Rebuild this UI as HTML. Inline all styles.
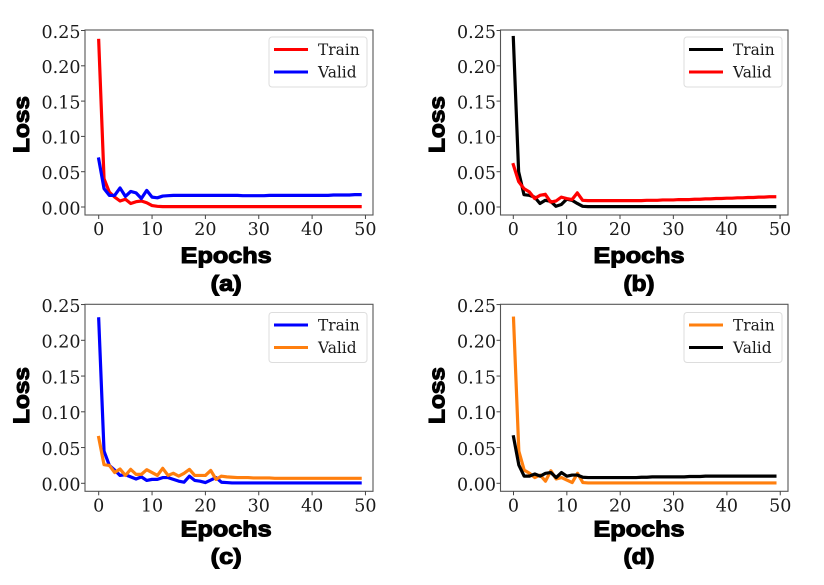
<!DOCTYPE html>
<html lang="en">
<head>
<meta charset="utf-8">
<title>Loss curves</title>
<style>
html,body{margin:0;padding:0;background:#fff;width:824px;height:585px;overflow:hidden}
svg{display:block;filter:blur(.35px)}
.tick{font-family:"DejaVu Serif","Liberation Serif",serif;font-size:17.5px;fill:#1a1a1a}
.leg{font-family:"DejaVu Serif","Liberation Serif",serif;font-size:15.4px;fill:#1a1a1a}
.bold{font-family:"Liberation Sans",Arial,sans-serif;font-weight:bold;font-size:22.5px;fill:#000;stroke:#000;stroke-width:1.1px}
</style>
</head>
<body>
<svg id="figure" width="824" height="585" viewBox="0 0 824 585" xmlns="http://www.w3.org/2000/svg"></svg>
<script>
const yTicks = [0, 0.05, 0.10, 0.15, 0.20, 0.25];
const yTickLabels = ["0.00", "0.05", "0.10", "0.15", "0.20", "0.25"];
const xTicks = [0, 10, 20, 30, 40, 50];
const xTickLabels = ["0", "10", "20", "30", "40", "50"];
const seriesNames = ["Train", "Valid"];

const trainA = [0.236,0.040,0.021,0.014,0.0085,0.011,0.005,0.0075,0.0085,0.006,0.002,0.001,0.0005,0.0005,0.0005,0.0005,0.0005,0.0005,0.0005,0.0005,0.0005,0.0005,0.0005,0.0005,0.0005,0.0005,0.0005,0.0005,0.0005,0.0005,0.0005,0.0005,0.0005,0.0005,0.0005,0.0005,0.0005,0.0005,0.0005,0.0005,0.0005,0.0005,0.0005,0.0005,0.0005,0.0005,0.0005,0.0005,0.0005,0.0005];
const validA = [0.068,0.026,0.0165,0.0165,0.027,0.015,0.022,0.020,0.012,0.0235,0.014,0.013,0.0155,0.016,0.0165,0.0165,0.0165,0.0165,0.0165,0.0165,0.0165,0.0165,0.0165,0.0165,0.0165,0.0165,0.0165,0.016,0.016,0.016,0.016,0.016,0.0165,0.0165,0.0165,0.0165,0.0165,0.0165,0.0165,0.0165,0.0165,0.0165,0.0165,0.0165,0.017,0.017,0.017,0.017,0.0175,0.0175];

const trainB = [0.240,0.050,0.0175,0.0165,0.014,0.005,0.0095,0.008,0.001,0.0035,0.011,0.0095,0.005,0.001,0.0005,0.0005,0.0005,0.0005,0.0005,0.0005,0.0005,0.0005,0.0005,0.0005,0.0005,0.0005,0.0005,0.0005,0.0005,0.0005,0.0005,0.0005,0.0005,0.0005,0.0005,0.0005,0.0005,0.0005,0.0005,0.0005,0.0005,0.0005,0.0005,0.0005,0.0005,0.0005,0.0005,0.0005,0.0005,0.0005];
const validB = [0.060,0.036,0.026,0.0215,0.012,0.0165,0.018,0.007,0.0085,0.014,0.012,0.0105,0.020,0.0095,0.009,0.009,0.009,0.009,0.009,0.009,0.009,0.009,0.009,0.009,0.009,0.0095,0.0095,0.0095,0.010,0.010,0.010,0.0105,0.0105,0.0105,0.011,0.011,0.0115,0.0115,0.012,0.012,0.0125,0.0125,0.013,0.013,0.0135,0.0135,0.014,0.014,0.0145,0.0145];

const trainC = [0.230,0.045,0.025,0.0185,0.011,0.012,0.009,0.006,0.009,0.004,0.0055,0.0055,0.008,0.008,0.0055,0.003,0.0015,0.010,0.004,0.003,0.001,0.0045,0.008,0.0015,0.001,0.0005,0.0005,0.0005,0.0005,0.0005,0.0005,0.0005,0.0005,0.0005,0.0005,0.0005,0.0005,0.0005,0.0005,0.0005,0.0005,0.0005,0.0005,0.0005,0.0005,0.0005,0.0005,0.0005,0.0005,0.0005];
const validC = [0.064,0.026,0.025,0.015,0.020,0.011,0.0195,0.0125,0.0125,0.019,0.015,0.011,0.021,0.011,0.014,0.010,0.014,0.0195,0.011,0.011,0.011,0.018,0.0055,0.010,0.009,0.0085,0.008,0.008,0.008,0.0075,0.0075,0.0075,0.0075,0.007,0.007,0.007,0.007,0.007,0.007,0.007,0.007,0.007,0.007,0.007,0.007,0.007,0.007,0.007,0.007,0.007];

const trainD = [0.231,0.045,0.0185,0.014,0.008,0.0115,0.003,0.0175,0.006,0.008,0.0045,0.001,0.014,0.001,0.0005,0.0005,0.0005,0.0005,0.0005,0.0005,0.0005,0.0005,0.0005,0.0005,0.0005,0.0005,0.0005,0.0005,0.0005,0.0005,0.0005,0.0005,0.0005,0.0005,0.0005,0.0005,0.0005,0.0005,0.0005,0.0005,0.0005,0.0005,0.0005,0.0005,0.0005,0.0005,0.0005,0.0005,0.0005,0.0005];
const validD = [0.065,0.0255,0.010,0.010,0.013,0.010,0.014,0.015,0.008,0.015,0.010,0.0115,0.0115,0.0085,0.008,0.008,0.008,0.008,0.008,0.008,0.008,0.008,0.008,0.008,0.0085,0.0085,0.009,0.009,0.009,0.009,0.009,0.009,0.009,0.0095,0.0095,0.0095,0.010,0.010,0.010,0.010,0.010,0.010,0.010,0.010,0.010,0.010,0.010,0.010,0.010,0.010];

const NS = "http://www.w3.org/2000/svg";
const root = document.getElementById("figure");

function make(parent, tag, attrs, text) {
  const el = document.createElementNS(NS, tag);
  for (const k in attrs) el.setAttribute(k, attrs[k]);
  if (text !== undefined) el.textContent = text;
  parent.appendChild(el);
  return el;
}

function drawPanel(p) {
  const xScale = v => p.x0 + v * 5.335;
  const yScale = v => p.y0 - v * p.yUnit;

  const g = make(root, "g", {});
  
  

  const frame = make(g, "rect", {x: p.left, y: p.top, width: p.right - p.left, height: p.bottom - p.top, fill: "#fff", stroke: "#555", "stroke-width": 1.1});
  
  

  yTicks.forEach((v, i) => {
    const tick = make(g, "line", {x1: p.left - 4, x2: p.left, y1: yScale(v), y2: yScale(v), stroke: "#444", "stroke-width": 1});
    
    
    const label = make(g, "text", {class: "tick", x: p.left - 4.5, y: yScale(v) + 7.3, "text-anchor": "end"}, yTickLabels[i]);
    
    
  });

  xTicks.forEach((v, i) => {
    const tick = make(g, "line", {x1: xScale(v), x2: xScale(v), y1: p.bottom, y2: p.bottom + 4, stroke: "#444", "stroke-width": 1});
    
    
    const label = make(g, "text", {class: "tick", x: xScale(v), y: p.bottom + 20, "text-anchor": "middle"}, xTickLabels[i]);
    
    
  });

  p.series.forEach((s, i) => {
    const pts = s.values.map((v, e) => xScale(e).toFixed(2) + "," + yScale(v).toFixed(2)).join(" ");
    const line = make(g, "polyline", {points: pts, fill: "none", stroke: s.color, "stroke-width": 3.2, "stroke-linejoin": "round", "stroke-linecap": "square"});
    
    
  });

  const lx = p.right - 104;
  const legend = make(g, "g", {});
  
  
  make(legend, "rect", {x: lx, y: p.legendTop, width: 98, height: 50, rx: 3, fill: "#fff", stroke: "#ddd", "stroke-width": 1});
  p.series.forEach((s, i) => {
    const ly = p.legendTop + 12.5 + i * 22.5;
    const entry = make(legend, "g", {});
    
    
    make(entry, "line", {x1: lx + 5, x2: lx + 39, y1: ly, y2: ly, stroke: s.color, "stroke-width": 3});
    make(entry, "text", {class: "leg", x: lx + 49, y: ly + 5.5}, seriesNames[i]);
  });

  const yTitle = make(g, "text", {class: "bold", transform: "translate(" + (p.left - 56) + "," + p.lossY + ") rotate(-90)", "text-anchor": "middle", textLength: 57, lengthAdjust: "spacingAndGlyphs"}, "Loss");
  
  

  const xTitle = make(g, "text", {class: "bold", x: p.titleX, y: p.epochsY, "text-anchor": "middle", textLength: 91, lengthAdjust: "spacingAndGlyphs"}, "Epochs");
  
  

  const caption = make(g, "text", {class: "bold", x: p.titleX, y: p.captionY, "text-anchor": "middle", textLength: 31, lengthAdjust: "spacingAndGlyphs"}, "(" + p.id + ")");
  
  
}

const RED = "#ff0000", BLUE = "#0000ff", BLACK = "#000000", ORANGE = "#ff7f0e";

drawPanel({id: "a", left: 85, right: 373, top: 30, bottom: 215, x0: 98.7, y0: 207, yUnit: 706, legendTop: 37, lossY: 124.5, epochsY: 263, captionY: 291, titleX: 226.2,
  series: [{values: trainA, color: RED}, {values: validA, color: BLUE}]});
drawPanel({id: "b", left: 500.5, right: 788, top: 30, bottom: 215, x0: 513.3, y0: 207, yUnit: 706, legendTop: 37, lossY: 124.5, epochsY: 263, captionY: 291, titleX: 639,
  series: [{values: trainB, color: BLACK}, {values: validB, color: RED}]});
drawPanel({id: "c", left: 85, right: 373, top: 304.3, bottom: 491.3, x0: 98.7, y0: 483.3, yUnit: 715, legendTop: 312.5, lossY: 395.5, epochsY: 536.5, captionY: 564, titleX: 226.2,
  series: [{values: trainC, color: BLUE}, {values: validC, color: ORANGE}]});
drawPanel({id: "d", left: 500.5, right: 788, top: 304.3, bottom: 491.3, x0: 513.5, y0: 483.3, yUnit: 715, legendTop: 312.5, lossY: 395.5, epochsY: 536.5, captionY: 564, titleX: 639,
  series: [{values: trainD, color: ORANGE}, {values: validD, color: BLACK}]});
</script>
</body>
</html>
